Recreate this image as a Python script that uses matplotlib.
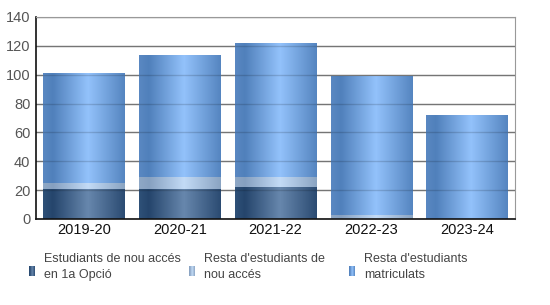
import matplotlib
matplotlib.use("Agg")
import matplotlib.pyplot as plt
import numpy as np
from matplotlib.colors import LinearSegmentedColormap

years = ["2019-20", "2020-21", "2021-22", "2022-23", "2023-24"]
primera_opcio = [21, 21, 22, 0, 0]
resta_nou_acces = [4, 8, 7, 3, 0]
resta_matriculats = [76, 85, 93, 96, 72]

labels = ["Estudiants de nou accés\nen 1a Opció", "Resta d'estudiants de\nnou accés",
          "Resta d'estudiants\nmatriculats"]

# (left edge, darkest, highlight, right edge)
GRAD = [
    ["#2f5178", "#25456c", "#6787ad", "#2b4b72"],
    ["#8fa8c6", "#86a0c0", "#c3dbf6", "#8aa4c2"],
    ["#5a88c2", "#5080bb", "#93c2fb", "#5585c0"],
]
STOPS = [0.0, 0.12, 0.55, 1.0]

plt.rcParams["font.family"] = ["Liberation Sans", "DejaVu Sans"]
fig = plt.figure(figsize=(5.5, 3.05), dpi=100)
ax = fig.add_axes([36 / 550, 1 - 219 / 305, 479 / 550, 202 / 305])

x = np.arange(len(years))
grad = np.linspace(0, 1, 256).reshape(1, -1)
bottom = np.zeros(len(years))
for vals, cols in zip([primera_opcio, resta_nou_acces, resta_matriculats], GRAD):
    cmap = LinearSegmentedColormap.from_list("g", list(zip(STOPS, cols)))
    bars = ax.bar(x, vals, 0.85, bottom=bottom, color="none", edgecolor="none", zorder=2)
    for b in bars:
        if b.get_height() <= 0:
            continue
        x0, y0, w, h = b.get_x(), b.get_y(), b.get_width(), b.get_height()
        im = ax.imshow(grad, cmap=cmap, aspect="auto", extent=(x0, x0 + w, y0, y0 + h),
                       interpolation="bilinear", zorder=2)
        im.set_clip_path(b)
    bottom += np.array(vals)

ax.set_xlim(-0.5, len(years) - 0.5)
ax.set_ylim(0, 140)
ax.set_yticks(range(0, 141, 20))
ax.set_xticks(x)
ax.set_xticklabels(years, fontsize=10.5, color="#111111")
ax.tick_params(axis="y", length=0, labelsize=10.5, labelcolor="#555555", pad=4)
ax.tick_params(axis="x", length=0, pad=3)
# grid: grey on the background, faint darkening over the bars
ax.yaxis.grid(True, color="#8a8a8a", linewidth=1, zorder=1)
ax.set_axisbelow(True)
for yv in ax.get_yticks()[1:-1]:
    ax.axhline(yv, color="#000000", alpha=0.15, linewidth=1, zorder=3)
for s in ("top", "right"):
    ax.spines[s].set_color("#999999")
for s in ("left", "bottom"):
    ax.spines[s].set_color("#111111")
    ax.spines[s].set_linewidth(1.2)

# legend with gradient swatches
lx = [29, 189, 349]
for i, (lab, cols) in enumerate(zip(labels, GRAD)):
    cmap = LinearSegmentedColormap.from_list("g", list(zip(STOPS, cols)))
    sax = fig.add_axes([lx[i] / 550, 1 - 276 / 305, 6 / 550, 10 / 305])
    sax.imshow(grad, cmap=cmap, aspect="auto", interpolation="bilinear")
    sax.axis("off")
    fig.text((lx[i] + 15) / 550, 1 - 267 / 305, lab, fontsize=9, color="#444444",
             va="center", ha="left", linespacing=1.4)

fig.savefig("out.png", dpi=100)
